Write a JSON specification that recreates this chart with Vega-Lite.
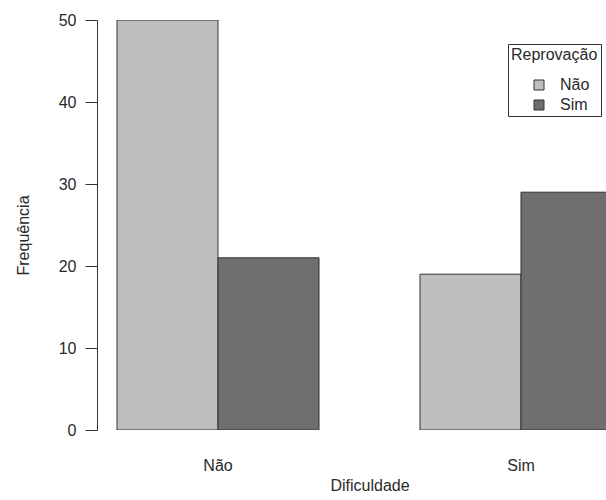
{
  "$schema": "https://vega.github.io/schema/vega-lite/v6.json",
  "autosize": "none",
  "width": 509,
  "height": 410,
  "padding": {"left": 97, "top": 20, "right": 0, "bottom": 70},
  "background": "white",
  "config": {
    "view": {"stroke": null},
    "font": "Liberation Sans",
    "axis": {"labelFont": "Liberation Sans", "titleFont": "Liberation Sans", "labelColor": "#2a2a2a", "titleColor": "#2a2a2a", "titleFontWeight": "normal", "labelFontSize": 16, "titleFontSize": 16, "grid": false},
    "legend": {"labelFont": "Liberation Sans", "titleFont": "Liberation Sans"}
  },
  "data": {
    "values": [
      {"Dificuldade": "Não", "Reprovacao": "Não", "Frequencia": 50},
      {"Dificuldade": "Não", "Reprovacao": "Sim", "Frequencia": 21},
      {"Dificuldade": "Sim", "Reprovacao": "Não", "Frequencia": 19},
      {"Dificuldade": "Sim", "Reprovacao": "Sim", "Frequencia": 29}
    ]
  },
  "mark": {"type": "bar", "stroke": "#333", "strokeWidth": 1, "clip": true},
  "encoding": {
    "x": {
      "field": "Dificuldade", "type": "nominal",
      "scale": {"domain": ["Não", "Sim"], "range": [0, 545], "paddingInner": 0.3333, "paddingOuter": 0.066},
      "axis": {"title": "Dificuldade", "labelAngle": 0, "domain": false, "ticks": false, "labelPadding": 27, "titlePadding": 4}
    },
    "xOffset": {
      "field": "Reprovacao", "type": "nominal",
      "scale": {"domain": ["Não", "Sim"], "paddingInner": 0, "paddingOuter": 0}
    },
    "y": {
      "field": "Frequencia", "type": "quantitative",
      "scale": {"domain": [0, 50], "nice": false},
      "axis": {"title": "Frequência", "values": [0, 10, 20, 30, 40, 50], "tickSize": 12, "tickColor": "#333", "domainColor": "#333", "labelPadding": 9, "titlePadding": 27, "titleY": 215}
    },
    "fill": {
      "field": "Reprovacao", "type": "nominal",
      "scale": {"domain": ["Não", "Sim"], "range": ["#bebebe", "#6f6f6f"]},
      "legend": {
        "title": "Reprovação", "orient": "none", "legendX": 411, "legendY": 24,
        "strokeColor": "#333", "padding": 3, "titleFontSize": 16, "titleFontWeight": "normal", "titleColor": "#2a2a2a",
        "labelFontSize": 16, "labelColor": "#2a2a2a", "symbolType": "square", "symbolSize": 100,
        "symbolStrokeColor": "#333", "symbolStrokeWidth": 1, "titlePadding": 14, "rowPadding": 4,
        "symbolOffset": 20, "labelOffset": 13, "offset": 0
      }
    }
  }
}
